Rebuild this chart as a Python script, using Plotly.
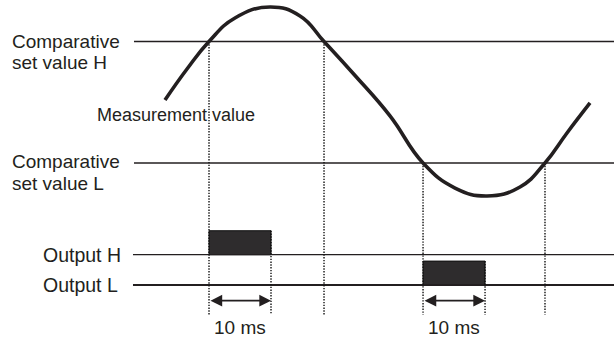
import plotly.graph_objects as go

# ---- data (time in ms, signal in arbitrary units) ----
curve_t = [-7.10, -3.55, 0.0, 4.19, 9.84, 14.68, 18.55, 23.55, 29.19, 34.52,
           39.68, 44.84, 50.16, 54.19, 57.74, 61.45]
curve_v = [0.037, 0.547, 1.0, 1.387, 1.568, 1.420, 1.0, 0.440, -0.225, -1.0,
           -1.412, -1.543, -1.395, -1.0, -0.506, -0.012]

set_value_h = 1.0
set_value_l = -1.0
output_h_level = -2.51
output_l_level = -3.01
output_height = 0.395

crossings_h = [0.0, 18.55]      # curve crosses set value H
crossings_l = [34.52, 54.19]    # curve crosses set value L
output_duration = 10            # ms
output_h_on = [0.0]
output_l_on = [34.52]

line_start_t = -12.1
t_min, t_max = -33.71, 65.32
v_min, v_max = -3.881, 1.683
dotted_bottom = -3.50
arrow_level = -3.267
ms_label_level = -3.70

FONT = "Liberation Sans, Arial, sans-serif"
INK = "#231f20"

fig = go.Figure()

# set value lines
for lvl in [set_value_h, set_value_l]:
    fig.add_trace(go.Scatter(x=[line_start_t, t_max], y=[lvl, lvl], mode="lines",
                             line=dict(color=INK, width=1.6), hoverinfo="skip"))
# output baselines
fig.add_trace(go.Scatter(x=[line_start_t - 0.16, t_max], y=[output_h_level, output_h_level], mode="lines",
                         line=dict(color=INK, width=1.2), hoverinfo="skip"))
fig.add_trace(go.Scatter(x=[line_start_t - 0.16, t_max], y=[output_l_level, output_l_level], mode="lines",
                         line=dict(color=INK, width=2), hoverinfo="skip"))

# dotted vertical guides
dot = dict(color="#111111", width=1.4, dash="1.4px,1.4px")
for t in crossings_h:
    fig.add_trace(go.Scatter(x=[t, t], y=[set_value_h, dotted_bottom], mode="lines", line=dot, hoverinfo="skip"))
for t in crossings_l:
    fig.add_trace(go.Scatter(x=[t, t], y=[set_value_l, dotted_bottom], mode="lines", line=dot, hoverinfo="skip"))
for t, lvl in [(output_h_on[0], output_h_level), (output_l_on[0], output_l_level)]:
    fig.add_trace(go.Scatter(x=[t + output_duration] * 2, y=[lvl + output_height, dotted_bottom],
                             mode="lines", line=dot, hoverinfo="skip"))

# output pulses
fig.add_trace(go.Bar(x=[output_h_on[0] + output_duration / 2, output_l_on[0] + output_duration / 2],
                     y=[output_height, output_height],
                     base=[output_h_level, output_l_level],
                     width=[output_duration, output_duration],
                     marker=dict(color="#2e2c2d", line=dict(color="#111111", width=1)),
                     hoverinfo="skip"))

# measurement curve
fig.add_trace(go.Scatter(x=curve_t, y=curve_v, mode="lines",
                         line=dict(color=INK, width=3.6, shape="spline", smoothing=1.3),
                         hoverinfo="skip"))

ann = []
# double arrows
for t0 in [output_h_on[0], output_l_on[0]]:
    ann.append(dict(x=t0 + output_duration, y=arrow_level, ax=t0, ay=arrow_level,
                    xref="x", yref="y", axref="x", ayref="y", showarrow=True,
                    arrowhead=2, startarrowhead=2, arrowside="end+start",
                    arrowsize=1.3, startarrowsize=1.3, arrowwidth=1.8, arrowcolor=INK, text=""))
    ann.append(dict(x=t0 + output_duration / 2, y=ms_label_level, xref="x", yref="y",
                    text="10 ms", showarrow=False, xanchor="center", yanchor="middle",
                    font=dict(family=FONT, size=19, color=INK)))

def label(text, xpx, y, size=19):
    ann.append(dict(x=xpx / 614, xref="paper", y=y, yref="y", text=text, showarrow=False,
                    xanchor="left", yanchor="middle", font=dict(family=FONT, size=size, color=INK)))

label("Comparative", 10, set_value_h + 0.0)
label("set value H", 10, set_value_h - 0.345)
label("Comparative", 10, set_value_l + 0.02)
label("set value L", 10, set_value_l - 0.33)
label("Output H", 41, output_h_level, size=19.5)
label("Output L", 41, output_l_level, size=19.5)
label("Measurement value", 95, -0.21, size=18)

fig.update_layout(
    width=614, height=338, margin=dict(l=0, r=0, t=0, b=0),
    paper_bgcolor="white", plot_bgcolor="white", showlegend=False,
    barmode="overlay", annotations=ann, hovermode=False,
    xaxis=dict(range=[t_min, t_max], visible=False, fixedrange=True),
    yaxis=dict(range=[v_min, v_max], visible=False, fixedrange=True),
)

fig.write_html("out.html", config={"displayModeBar": False, "staticPlot": True},
               post_script="document.body.style.margin='0';")
